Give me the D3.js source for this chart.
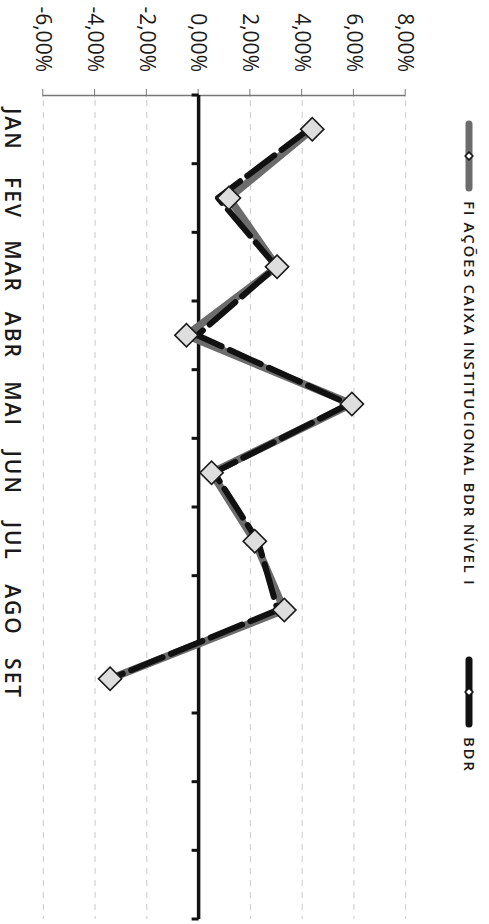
<!DOCTYPE html>
<html>
<head>
<meta charset="utf-8">
<script src="https://cdn.jsdelivr.net/npm/d3@7"></script>
<style>
  body { margin: 0; background: #fff; }
  text { font-family: "Open Sans", sans-serif; fill: #1a1a1a; }
</style>
</head>
<body>
<script>
// chart is drawn in a normal frame and then turned 90deg clockwise
var W = 924, H = 489;

var months = ["JAN", "FEV", "MAR", "ABR", "MAI", "JUN", "JUL", "AGO", "SET", "", "", ""];
var fiValues = [4.39, 1.17, 3.03, -0.47, 5.92, 0.50, 2.17, 3.31, -3.42];
var bdrValues = [4.25, 0.75, 3.00, -0.05, 5.80, 0.60, 2.30, 3.05, -3.40];
var valueTicks = [-6, -4, -2, 0, 2, 4, 6, 8];
var seriesNames = ["FI AÇÕES CAIXA INSTITUCIONAL BDR NÍVEL I", "BDR"];

var svg = d3.select("body").append("svg")
  .attr("width", H).attr("height", W);

var g = svg.append("g").attr("transform", "translate(" + H + ",0) rotate(90)");

var x = d3.scaleBand().domain(d3.range(months.length)).range([95, 919]);
var y = d3.scaleLinear().domain([-6, 8]).range([445.7, 83.3]);

function fmt(d) { return d.toFixed(2).replace(".", ",") + "%"; }

// dashed grid
g.append("g").selectAll("line").data(valueTicks.filter(function(d) { return d !== 0; }))
  .enter().append("line")
  .attr("x1", x.range()[0] + 5).attr("x2", x.range()[1])
  .attr("y1", function(d) { return y(d); }).attr("y2", function(d) { return y(d); })
  .style("stroke", "#cacaca").style("stroke-width", 1)
  .style("stroke-dasharray", "6,6");

// value axis
var yAxis = g.append("g").attr("transform", "translate(" + x.range()[0] + ",0)")
  .call(d3.axisLeft(y).tickValues(valueTicks).tickFormat(fmt).tickSizeInner(6).tickSizeOuter(0).tickPadding(17));
yAxis.select(".domain").style("stroke", "#777").style("stroke-width", 1.3);
yAxis.selectAll(".tick line").style("stroke", "#777").attr("x2", -6).attr("x1", 1.5);
yAxis.selectAll(".tick text")
  .style("font-family", "'Open Sans', sans-serif").style("font-size", "21px").style("fill", "#1a1a1a");

// category axis on zero
var zeroY = y(0);
g.append("line")
  .attr("x1", x.range()[0]).attr("x2", x.range()[1])
  .attr("y1", zeroY).attr("y2", zeroY)
  .style("stroke", "#111").style("stroke-width", 3.5);
g.append("g").selectAll("line").data(d3.range(months.length + 1))
  .enter().append("line")
  .attr("x1", function(i) { return x.range()[0] + i * x.step(); })
  .attr("x2", function(i) { return x.range()[0] + i * x.step(); })
  .attr("y1", zeroY).attr("y2", zeroY + 7)
  .style("stroke", "#111").style("stroke-width", 3);

// month labels at the low side
g.append("g").selectAll("text").data(months)
  .enter().append("text")
  .attr("x", function(d, i) { return x(i) + x.bandwidth() / 2; })
  .attr("y", 484)
  .attr("text-anchor", "middle")
  .style("font-size", "21px").style("font-weight", 600).style("letter-spacing", "2px")
  .text(function(d) { return d; });

var line = d3.line()
  .x(function(d, i) { return x(i) + x.bandwidth() / 2; })
  .y(function(d) { return y(d); });

g.append("path").datum(fiValues).attr("d", line)
  .style("fill", "none").style("stroke", "#6c6c6c").style("stroke-width", 7.5)
  .style("stroke-linejoin", "round").style("stroke-linecap", "round");
g.append("path").datum(bdrValues).attr("d", line)
  .style("fill", "none").style("stroke", "#111").style("stroke-width", 6)
  .style("stroke-linejoin", "round").style("stroke-linecap", "round")
  .style("stroke-dasharray", "34,9");

var diamond = d3.symbol().type(d3.symbolSquare).size(270);
g.append("g").selectAll("path").data(fiValues)
  .enter().append("path")
  .attr("d", diamond)
  .attr("transform", function(d, i) {
    return "translate(" + (x(i) + x.bandwidth() / 2) + "," + y(d) + ") rotate(45)";
  })
  .style("fill", "#dedede").style("stroke", "#1a1a1a").style("stroke-width", 1.6);

// legend
var legendX = [124, 660];
var legendColors = ["#6c6c6c", "#111"];
var leg = g.append("g").selectAll("g").data(seriesNames)
  .enter().append("g")
  .attr("transform", function(d, i) { return "translate(" + legendX[i] + ",20)"; });
leg.append("line").attr("x1", 0).attr("x2", 64)
  .style("stroke", function(d, i) { return legendColors[i]; })
  .style("stroke-width", 7).style("stroke-linecap", "round");
leg.append("path").attr("d", d3.symbol().type(d3.symbolSquare).size(30))
  .attr("transform", "translate(32,0) rotate(45)")
  .style("fill", "#fff").style("stroke", "#111").style("stroke-width", 1.5);
leg.append("text").attr("x", 77).attr("y", 5)
  .style("font-size", "15px").style("font-weight", 600).style("letter-spacing", "1.7px")
  .text(function(d) { return d; });
</script>
</body>
</html>
